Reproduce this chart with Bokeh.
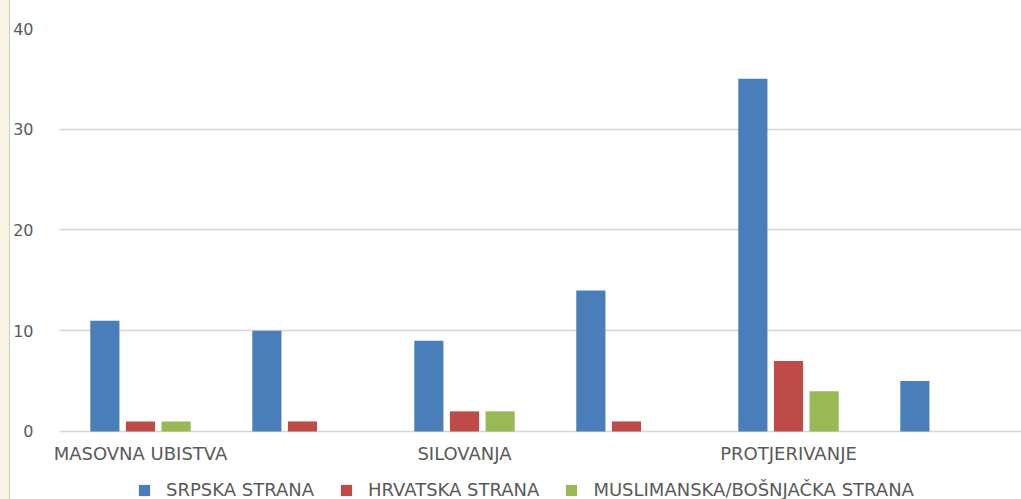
from bokeh.plotting import figure
from bokeh.models import (ColumnDataSource, FixedTicker, Legend, LegendItem, Div,
                          Range1d, BoxAnnotation)
from bokeh.transform import dodge
from bokeh.layouts import row
from bokeh.embed import file_html
from bokeh.resources import INLINE

# ---- data ----
categories = ["MASOVNA UBISTVA", "", "SILOVANJA", "", "PROTJERIVANJE", ""]
srpska = [11, 10, 9, 14, 35, 5]
hrvatska = [1, 1, 2, 1, 7, 0]
muslimanska = [1, 0, 2, 0, 4, 0]
series_names = ["SRPSKA STRANA", "HRVATSKA STRANA", "MUSLIMANSKA/BOŠNJAČKA STRANA"]
y_ticks = [0, 10, 20, 30, 40]

colors = ["#4a7ebb", "#be4b48", "#98b954"]
FONT = "DejaVu Sans"
TXT = "#595959"

xpos = [i + 0.5 for i in range(len(categories))]
src = ColumnDataSource(dict(x=xpos, s=srpska, h=hrvatska, m=muslimanska))

# frame spans down to the bottom edge; value 0 sits 68 px above it
p = figure(width=1011, height=499, output_backend="svg", toolbar_location=None,
           x_range=Range1d(-9 / 162, 962 / 162), y_range=Range1d(-6.75, 40),
           min_border_left=30, min_border_right=0, min_border_top=28,
           min_border_bottom=0, background_fill_color="white",
           border_fill_color="white", outline_line_color=None, margin=0)

bw = 0.18
off = 0.22
r1 = p.vbar(x=dodge("x", -off, range=p.x_range), top="s", width=bw, source=src,
            fill_color=colors[0], line_color=None)
r2 = p.vbar(x=dodge("x", 0, range=p.x_range), top="h", width=bw, source=src,
            fill_color=colors[1], line_color=None)
r3 = p.vbar(x=dodge("x", off, range=p.x_range), top="m", width=bw, source=src,
            fill_color=colors[2], line_color=None)

# axes
p.xaxis.fixed_location = 0
p.xaxis.ticker = FixedTicker(ticks=xpos)
p.xaxis.major_label_overrides = {x: c for x, c in zip(xpos, categories)}
p.yaxis.ticker = FixedTicker(ticks=y_ticks)
for ax in (p.xaxis[0], p.yaxis[0]):
    ax.axis_line_color = None
    ax.major_tick_line_color = None
    ax.minor_tick_line_color = None
    ax.major_label_text_font = FONT
    ax.major_label_text_color = TXT
p.xaxis.major_label_text_font_size = "18px"
p.yaxis.major_label_text_font_size = "16px"
p.xaxis.major_label_standoff = 6
p.yaxis.major_label_standoff = 11

p.xgrid.grid_line_color = None
p.ygrid.grid_line_color = "#d6d6d6"
p.ygrid.grid_line_width = 1.5

# keep gridlines starting at the plot-area edge (left of the first category)
p.add_layout(BoxAnnotation(right=0, fill_color="white", fill_alpha=1,
                           line_color=None, level="underlay"))

legend = Legend(items=[LegendItem(label=n, renderers=[r]) for n, r in zip(series_names, [r1, r2, r3])],
                orientation="horizontal", location=(87, -1),
                glyph_width=14, glyph_height=14, label_standoff=15, spacing=25,
                padding=0, margin=0, border_line_color=None, background_fill_alpha=0,
                label_text_font=FONT, label_text_font_size="18px", label_text_color=TXT)
p.add_layout(legend, "center")

strip = Div(width=10, height=499, margin=0,
            styles={"background-color": "#f7f4e1", "border-right": "1px solid #cfcfc6",
                    "box-sizing": "border-box"})
layout = row(strip, p, spacing=0)

open("out.html", "w").write(file_html(layout, INLINE))
